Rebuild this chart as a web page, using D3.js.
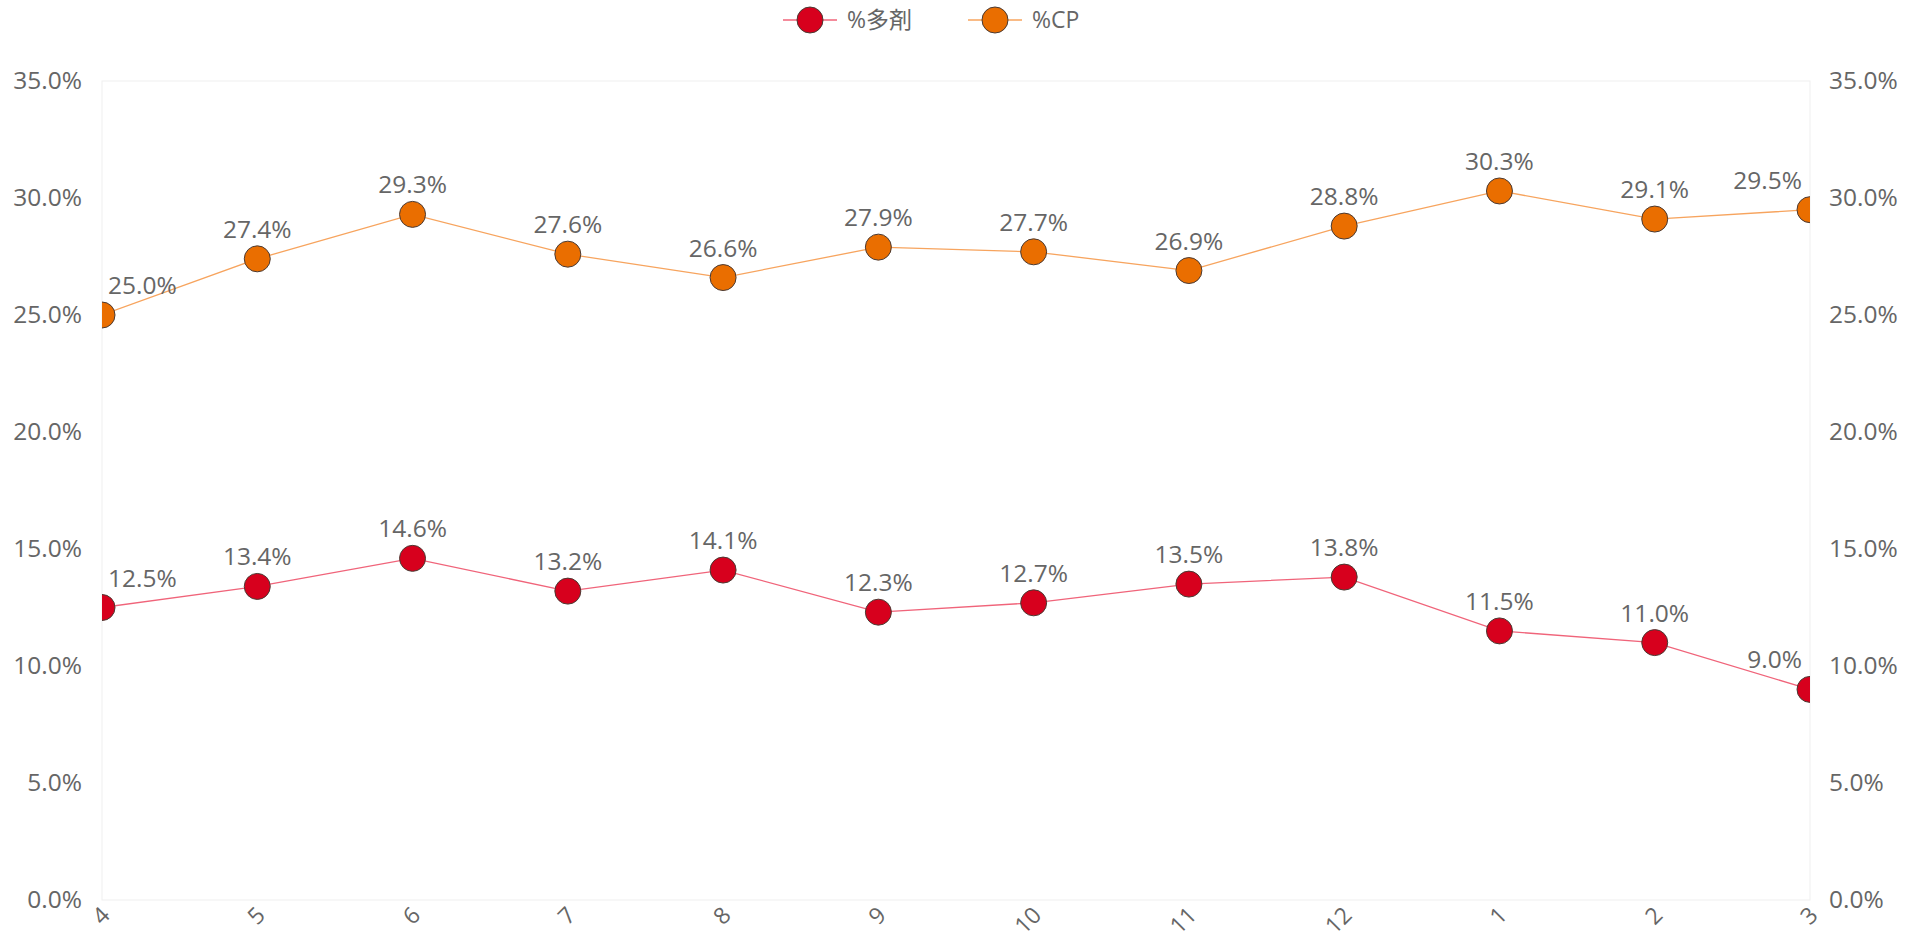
<!DOCTYPE html>
<html>
<head>
<meta charset="utf-8">
<script src="https://cdn.jsdelivr.net/npm/d3@7"></script>
<style>
  html, body { margin: 0; padding: 0; background: #fff; }
  svg { display: block; font-family: "Open Sans", "Noto Sans CJK JP", sans-serif; }
</style>
</head>
<body>
<svg id="chart" width="1927" height="939"></svg>
<script>
// Months (April through March)
const months = ["4", "5", "6", "7", "8", "9", "10", "11", "12", "1", "2", "3"];
// Share of polypharmacy cases, %
const pctPoly = [12.5, 13.4, 14.6, 13.2, 14.1, 12.3, 12.7, 13.5, 13.8, 11.5, 11.0, 9.0];
// Share of CP, %
const pctCP = [25.0, 27.4, 29.3, 27.6, 26.6, 27.9, 27.7, 26.9, 28.8, 30.3, 29.1, 29.5];
// Axis ticks, %
const yTicks = [0, 5, 10, 15, 20, 25, 30, 35];

const seriesList = [
  { name: "%多剤", values: pctPoly, fill: "#D7001D", line: "#F0647A" },
  { name: "%CP", values: pctCP, fill: "#EA6E00", line: "#F7A45E" }
];

const svg = d3.select("#chart");
const margin = { left: 102, right: 1927 - 1810, top: 81, bottom: 939 - 900 };
const W = 1927, H = 939;
const textColor = "#666666";
const fontSize = 24.5;
const legendFontSize = 23;

const x = d3.scalePoint().domain(months).range([margin.left, W - margin.right]);
const y = d3.scaleLinear().domain([0, 35]).range([H - margin.bottom, margin.top]);

// Plot frame
svg.append("rect")
  .attr("x", margin.left).attr("y", margin.top)
  .attr("width", W - margin.left - margin.right)
  .attr("height", H - margin.top - margin.bottom)
  .attr("fill", "none").attr("stroke", "#EFEFEF").attr("stroke-width", 1);

const fmt = d => d.toFixed(1) + "%";

// Left axis
const leftAxis = svg.append("g")
  .attr("transform", `translate(${margin.left - 20},0)`)
  .call(d3.axisLeft(y).tickValues(yTicks).tickFormat(fmt).tickSize(0).tickPadding(0));
// Right axis
const rightAxis = svg.append("g")
  .attr("transform", `translate(${W - margin.right + 19},0)`)
  .call(d3.axisRight(y).tickValues(yTicks).tickFormat(fmt).tickSize(0).tickPadding(0));
[leftAxis, rightAxis].forEach(g => {
  g.select(".domain").remove();
  g.selectAll("text").attr("fill", textColor).style("font-size", fontSize + "px")
    .style("font-family", "'Open Sans', sans-serif");
});

// Bottom axis with rotated month labels
const bottomAxis = svg.append("g")
  .attr("transform", `translate(0,${H - margin.bottom})`)
  .call(d3.axisBottom(x).tickSize(0).tickPadding(0));
bottomAxis.select(".domain").remove();
bottomAxis.selectAll("text")
  .attr("fill", textColor)
  .style("font-size", "23px")
  .style("font-family", "'Open Sans', sans-serif")
  .attr("text-anchor", "end")
  .attr("y", 0).attr("dy", "0.35em")
  .attr("transform", "translate(3,11) rotate(-45)");

// Clip marks to the plot area
svg.append("defs").append("clipPath").attr("id", "plotClip")
  .append("rect")
  .attr("x", margin.left).attr("y", margin.top - 30)
  .attr("width", W - margin.left - margin.right)
  .attr("height", H - margin.top - margin.bottom + 30);

const plot = svg.append("g").attr("clip-path", "url(#plotClip)");
const line = d3.line().x((d, i) => x(months[i])).y(d => y(d));

seriesList.forEach(s => {
  plot.append("path")
    .datum(s.values)
    .attr("d", line)
    .attr("fill", "none")
    .attr("stroke", s.line)
    .attr("stroke-width", 1.3);
  plot.selectAll(null)
    .data(s.values)
    .enter().append("circle")
    .attr("cx", (d, i) => x(months[i]))
    .attr("cy", d => y(d))
    .attr("r", 13)
    .attr("fill", s.fill)
    .attr("stroke", "#4A3A33")
    .attr("stroke-width", 1);
});

// Value labels above each point
seriesList.forEach(s => {
  svg.selectAll(null)
    .data(s.values)
    .enter().append("text")
    .attr("x", (d, i) => {
      const px = x(months[i]);
      if (i === 0) return px + 6;
      if (i === months.length - 1) return px - 8;
      return px;
    })
    .attr("y", d => y(d) - 21)
    .attr("text-anchor", (d, i) => i === 0 ? "start" : (i === months.length - 1 ? "end" : "middle"))
    .attr("fill", textColor)
    .style("font-size", fontSize + "px")
    .text(d => fmt(d));
});

// Legend
const legendItems = [
  { s: seriesList[0], cx: 810 },
  { s: seriesList[1], cx: 995 }
];
const legend = svg.append("g");
legendItems.forEach(({ s, cx }) => {
  legend.append("line")
    .attr("x1", cx - 27).attr("x2", cx + 27)
    .attr("y1", 20).attr("y2", 20)
    .attr("stroke", s.line).attr("stroke-width", 1.3);
  legend.append("circle")
    .attr("cx", cx).attr("cy", 20).attr("r", 13)
    .attr("fill", s.fill).attr("stroke", "#4A3A33").attr("stroke-width", 1);
  legend.append("text")
    .attr("x", cx + 37).attr("y", 20).attr("dy", "0.35em")
    .attr("fill", textColor)
    .style("font-size", legendFontSize + "px")
    .text(s.name);
});
</script>
</body>
</html>
